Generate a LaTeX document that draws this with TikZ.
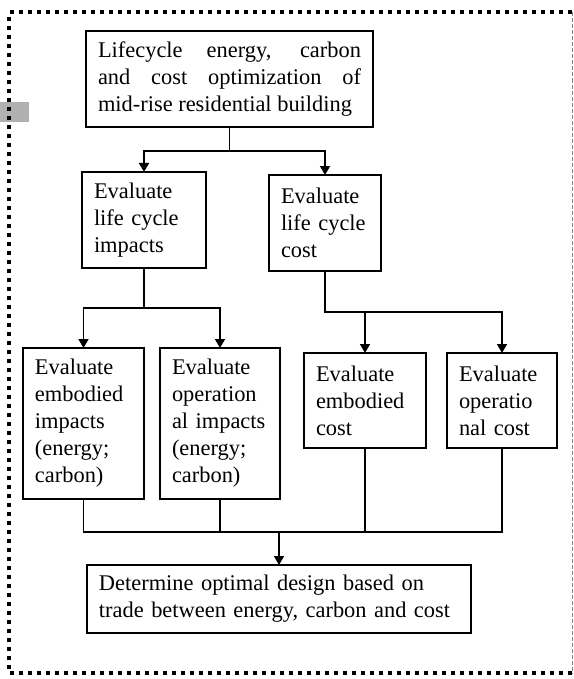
\documentclass[tikz,border=0pt]{standalone}
\usepackage{fontspec}
\setmainfont{Liberation Serif}
\usetikzlibrary{arrows.meta}
\definecolor{grayrect}{RGB}{176,176,176}
\definecolor{rightdash}{RGB}{130,130,130}
\hyphenpenalty=10000
\exhyphenpenalty=10000
\begin{document}
\begin{tikzpicture}[x=1bp,y=-1bp,
  txt/.style={font=\fontsize{22.5}{27.1}\selectfont},
  box/.style={txt,draw,line width=1.3bp,inner xsep=12bp,inner ysep=0pt,outer sep=0pt,align=left,anchor=center},
  arr/.style={line width=1.6bp,-{Triangle[length=9bp,width=10bp]}},
  merge/.style={line width=1.2bp}]
\useasboundingbox (0,0) rectangle (574,679);
% background marks
\fill[grayrect] (0,102) rectangle (29,122);
\draw[line width=4bp,dash pattern=on 4bp off 5bp] (572,12.5) -- (9,12.5) -- (9,673) -- (572,673);
\draw[rightdash,line width=1bp,dash pattern=on 4bp off 2bp] (572,12.5) -- (572,673);
% nodes
\node[box,line width=1.8bp,inner xsep=12bp,text width=263bp,minimum height=96bp,align=justify] (top) at (229.5,79)
  {Lifecycle energy, carbon\linebreak and cost optimization of\linebreak mid-rise residential building};
\node[box,text width=100bp,minimum height=96bp] (imp) at (144,220) {Evaluate\\life cycle\\impacts};
\node[box,text width=88bp,minimum height=96bp] (cost) at (325,223) {Evaluate\\life cycle\\cost};
\node[box,text width=97bp,minimum height=151bp] (ei) at (83.5,423.5) {Evaluate\\embodied\\impacts\\(energy;\\carbon)};
\node[box,text width=96bp,minimum height=151bp] (oi) at (220,423.5) {Evaluate\\operation\\al impacts\\(energy;\\carbon)};
\node[box,text width=98bp,minimum height=95bp] (ec) at (365,400.5) {Evaluate\\embodied\\cost};
\node[box,text width=86bp,minimum height=95bp] (oc) at (502,400.5) {Evaluate\\operatio\\nal cost};
\node[box,text width=360bp,minimum height=68bp] (bot) at (279,599) {Determine optimal design based on\\trade between energy, carbon and cost};
% junctions
\coordinate (j1) at (229.5,151);
\coordinate (j2) at (144,308);
\coordinate (j3) at (325,312);
\coordinate (m) at (279,532);
% connectors
\draw[arr] (top.south) -- (j1) -| (imp.north);
\draw[arr] (top.south) -- (j1) -| (cost.north);
\draw[arr] (imp.south) -- (j2) -| (ei.north);
\draw[arr] (imp.south) -- (j2) -| (oi.north);
\draw[arr] (cost.south) -- (j3) -| (ec.north);
\draw[arr] (cost.south) -- (j3) -| (oc.north);
\draw[merge] (ei.south) |- (m) -| (oc.south);
\draw[merge] (oi.south) -- (oi.south |- m);
\draw[merge] (ec.south) -- (ec.south |- m);
\draw[arr] (m) -- (bot.north);
\end{tikzpicture}
\end{document}
